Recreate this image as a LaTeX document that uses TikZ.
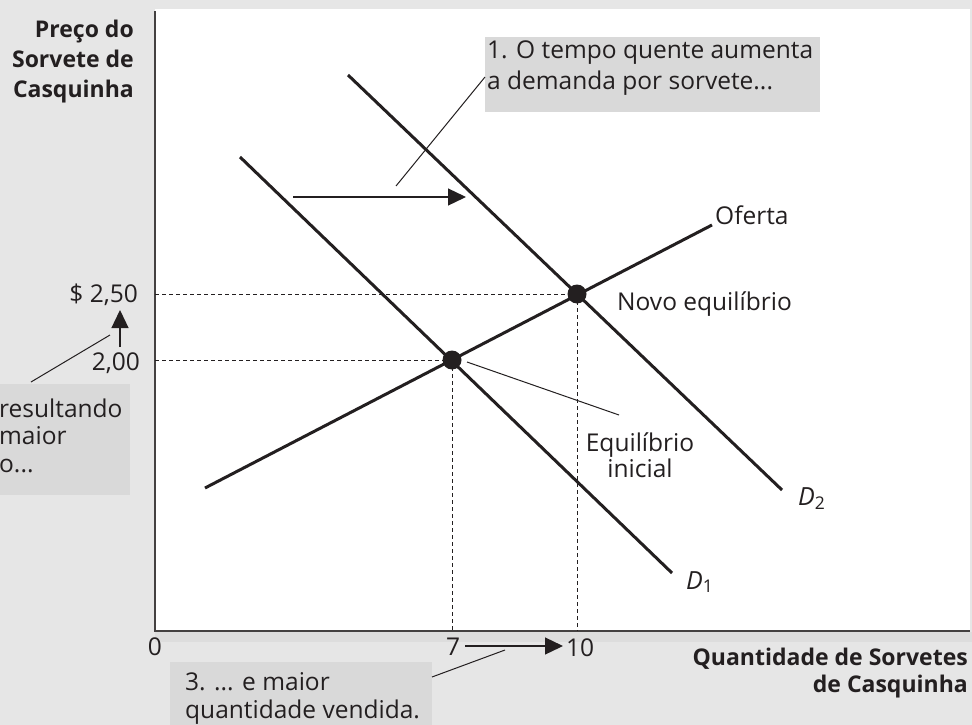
\documentclass[tikz,border=0pt]{standalone}
\usepackage{fontspec}
\setmainfont{Open Sans}
\usetikzlibrary{arrows.meta}
\definecolor{bg}{HTML}{E6E6E6}
\definecolor{boxg}{HTML}{D9D9D9}
\definecolor{band}{HTML}{DDDDDD}
\definecolor{ink}{HTML}{231F20}
\begin{document}
\begin{tikzpicture}[x=1pt,y=-1pt,
  lbl/.style={inner sep=0pt, text=ink, font=\fontsize{24.5}{28}\selectfont},
  blbl/.style={inner sep=0pt, text=ink, font=\fontsize{23}{28}\selectfont\bfseries},
  dlbl/.style={inner sep=0pt, text=ink, font=\fontsize{25}{28}\selectfont},
  curve/.style={draw=ink, line width=3pt},
  guide/.style={draw=ink, line width=0.9pt, dash pattern=on 4pt off 3pt},
  leader/.style={draw=ink, line width=1pt},
  shiftarrow/.style={draw=ink, line width=1.3pt, -{Triangle[length=18pt,width=17pt]}},
  axisline/.style={draw=ink!85, line width=2pt},
  eqdot/.style={circle, fill=ink, minimum size=19pt, inner sep=0pt},
  panel/.style={fill=boxg, draw=none, inner sep=0pt, anchor=north west}]
\useasboundingbox (0,0) rectangle (972,725);
\fill[bg] (0,0) rectangle (972,725);
\fill[white] (155,9) rectangle (970,630);
\fill[band] (155,632) rectangle (972,642);
\draw[axisline] (155,11) -- (155,631) -- (970,631);

% panels
\node[panel, minimum width=335pt, minimum height=75pt] (box1) at (485,37) {};
\node[panel, minimum width=130pt, minimum height=111pt] (box2) at (0,384) {};
\node[panel, minimum width=262pt, minimum height=63pt] (box3) at (170,662) {};

% curve end points
\coordinate (d1a) at (240,157);
\coordinate (d1b) at (672,573);
\coordinate (d2a) at (348,75);
\coordinate (d2b) at (782,490);
\coordinate (sa) at (205,488);
\coordinate (sb) at (712,225);
\coordinate (e1) at (452,360);
\coordinate (e2) at (577,294);
\coordinate (y250) at (155,294);
\coordinate (y200) at (155,360);
\coordinate (x7) at (452,631);
\coordinate (x10) at (577,631);

% guides
\draw[guide] (y250) -- (e2);
\draw[guide] (y200) -- (e1);
\draw[guide] (e1) -- (x7);
\draw[guide] (e2) -- (x10);

% curves
\draw[curve] (d1a) -- (d1b);
\draw[curve] (d2a) -- (d2b);
\draw[curve] (sa) -- (sb);
\node[eqdot] (E1) at (e1) {};
\node[eqdot] (E2) at (e2) {};

% shift arrow
\coordinate (sh0) at (293,197);
\coordinate (sh1) at (466,197);
\draw[shiftarrow] (sh0) -- (sh1);

% leaders
\coordinate (l1a) at (396,186);
\coordinate (l1b) at (485,77);
\draw[leader] (l1a) -- (l1b);
\coordinate (l2a) at (31,382);
\coordinate (l2b) at (110,335);
\draw[leader] (l2a) -- (l2b);
\coordinate (l3a) at (432,677);
\coordinate (l3b) at (505,650);
\draw[leader] (l3a) -- (l3b);
\coordinate (lea) at (467,362);
\coordinate (leb) at (619,415);
\draw[leader] (lea) -- (leb);

% price arrow and quantity arrow
\coordinate (pa0) at (120,347);
\coordinate (pa1) at (120,310);
\draw[shiftarrow] (pa0) -- (pa1);
\coordinate (qa0) at (465,646);
\coordinate (qa1) at (563,646);
\draw[shiftarrow] (qa0) -- (qa1);

% axis titles
\node[blbl, anchor=base east] (yt1) at (134,38) {Preço do};
\node[blbl, anchor=base east] (yt2) at (134,68) {Sorvete de};
\node[blbl, anchor=base east] (yt3) at (134,97) {Casquinha};
\node[blbl, anchor=base east] (xt1) at (968,665) {Quantidade de Sorvetes};
\node[blbl, anchor=base east] (xt2) at (968,692) {de Casquinha};

% ticks
\node[lbl, anchor=base east] (p250) at (138,302) {\$ 2,50};
\node[lbl, anchor=base east] (p200) at (140,370) {2,00};
\node[lbl, anchor=base] (q0) at (155,655) {0};
\node[lbl, anchor=base] (q7) at (453,655) {7};
\node[lbl, anchor=base west] (q10) at (566,656) {10};

% panel texts
\node[lbl, anchor=base west] (b1l1) at (487,59) {1. O tempo quente aumenta};
\node[lbl, anchor=base west] (b1l2) at (487,89) {a demanda por sorvete...};
\node[lbl, anchor=base west] (b2l1) at (-1,417) {resultando};
\node[lbl, anchor=base west] (b2l2) at (-1,444) {maior};
\node[lbl, anchor=base west] (b2l3) at (-1,472) {o...};
\node[lbl, anchor=base west] (b3l1) at (185,690) {3. ... e maior};
\node[lbl, anchor=base west] (b3l2) at (185,718) {quantidade vendida.};

% curve labels
\node[lbl, anchor=base west] (of) at (715,224) {Oferta};
\node[lbl, anchor=base west] (ne) at (617,310) {Novo equilíbrio};
\node[lbl, anchor=base] (ei1) at (640,451) {Equilíbrio};
\node[lbl, anchor=base] (ei2) at (640,477) {inicial};
\node[dlbl, anchor=base west] (D2) at (798,505) {\textit{D}\textsubscript{2}};
\node[dlbl, anchor=base west] (D1) at (686,589) {\textit{D}\textsubscript{1}};
\end{tikzpicture}
\end{document}
